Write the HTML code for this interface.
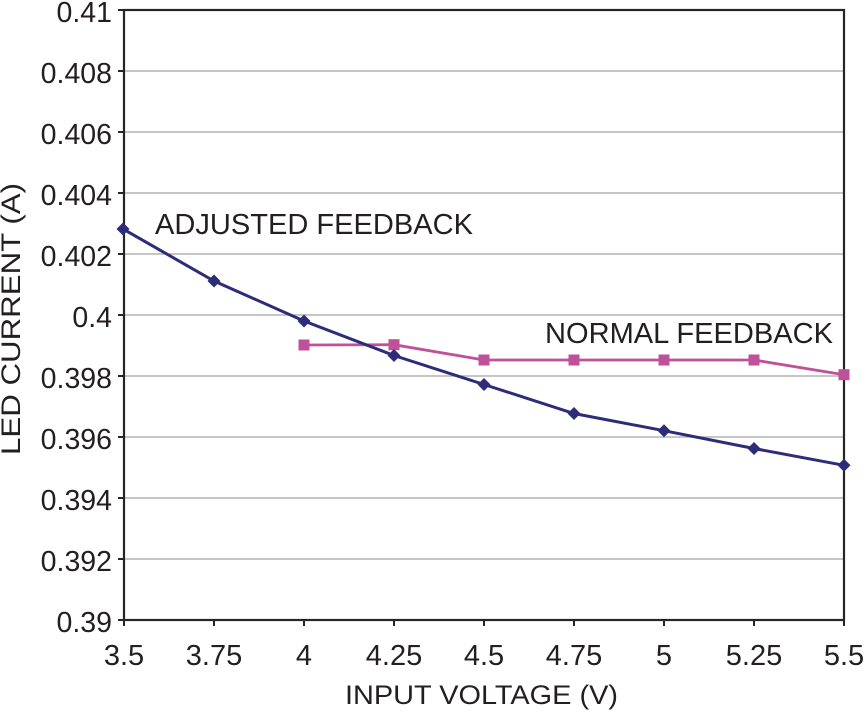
<!DOCTYPE html>
<html>
<head>
<meta charset="utf-8">
<style>
  html, body { margin: 0; padding: 0; background: #fff; }
  svg { display: block; }
  text { font-family: "Liberation Sans", Arial, sans-serif; fill: #231f20; }
</style>
</head>
<body>
<svg width="864" height="714" viewBox="0 0 864 714" xmlns="http://www.w3.org/2000/svg">
  <rect x="0" y="0" width="864" height="714" fill="#fff"/>
  <!-- gridlines -->
  <g stroke="#b4b4b4" stroke-width="1.6">
    <line x1="124" y1="71" x2="844" y2="71"/>
    <line x1="124" y1="132" x2="844" y2="132"/>
    <line x1="124" y1="193" x2="844" y2="193"/>
    <line x1="124" y1="254" x2="844" y2="254"/>
    <line x1="124" y1="315" x2="844" y2="315"/>
    <line x1="124" y1="376" x2="844" y2="376"/>
    <line x1="124" y1="437" x2="844" y2="437"/>
    <line x1="124" y1="498" x2="844" y2="498"/>
    <line x1="124" y1="559" x2="844" y2="559"/>
  </g>
  <!-- frame -->
  <rect x="124" y="10" width="720" height="610" fill="none" stroke="#262626" stroke-width="2.2"/>
  <!-- y ticks -->
  <g stroke="#262626" stroke-width="2">
    <line x1="118" y1="10" x2="124" y2="10"/>
    <line x1="118" y1="71" x2="124" y2="71"/>
    <line x1="118" y1="132" x2="124" y2="132"/>
    <line x1="118" y1="193" x2="124" y2="193"/>
    <line x1="118" y1="254" x2="124" y2="254"/>
    <line x1="118" y1="315" x2="124" y2="315"/>
    <line x1="118" y1="376" x2="124" y2="376"/>
    <line x1="118" y1="437" x2="124" y2="437"/>
    <line x1="118" y1="498" x2="124" y2="498"/>
    <line x1="118" y1="559" x2="124" y2="559"/>
    <line x1="118" y1="620" x2="124" y2="620"/>
    <!-- x ticks -->
    <line x1="124" y1="620" x2="124" y2="626"/>
    <line x1="214" y1="620" x2="214" y2="626"/>
    <line x1="304" y1="620" x2="304" y2="626"/>
    <line x1="394" y1="620" x2="394" y2="626"/>
    <line x1="484" y1="620" x2="484" y2="626"/>
    <line x1="574" y1="620" x2="574" y2="626"/>
    <line x1="664" y1="620" x2="664" y2="626"/>
    <line x1="754" y1="620" x2="754" y2="626"/>
    <line x1="844" y1="620" x2="844" y2="626"/>
  </g>
  <!-- y tick labels -->
  <g font-size="28.5" text-anchor="end">
    <text x="112" y="22">0.41</text>
    <text x="112" y="83">0.408</text>
    <text x="112" y="144">0.406</text>
    <text x="112" y="205">0.404</text>
    <text x="112" y="266">0.402</text>
    <text x="112" y="327">0.4</text>
    <text x="112" y="388">0.398</text>
    <text x="112" y="449">0.396</text>
    <text x="112" y="510">0.394</text>
    <text x="112" y="571">0.392</text>
    <text x="112" y="632">0.39</text>
  </g>
  <!-- x tick labels -->
  <g font-size="29" text-anchor="middle">
    <text x="124" y="665">3.5</text>
    <text x="214" y="665">3.75</text>
    <text x="304" y="665">4</text>
    <text x="394" y="665">4.25</text>
    <text x="484" y="665">4.5</text>
    <text x="574" y="665">4.75</text>
    <text x="664" y="665">5</text>
    <text x="754" y="665">5.25</text>
    <text x="844" y="665">5.5</text>
  </g>
  <!-- axis titles -->
  <text x="345" y="704" font-size="26.5" textLength="273" lengthAdjust="spacingAndGlyphs">INPUT VOLTAGE (V)</text>
  <text transform="translate(20,455) rotate(-90)" font-size="26.5" textLength="272" lengthAdjust="spacingAndGlyphs">LED CURRENT (A)</text>
  <!-- annotations -->
  <text x="155" y="234" font-size="29" textLength="318" lengthAdjust="spacingAndGlyphs">ADJUSTED FEEDBACK</text>
  <text x="545" y="343" font-size="29" textLength="288" lengthAdjust="spacingAndGlyphs">NORMAL FEEDBACK</text>
  <!-- normal feedback series -->
  <polyline fill="none" stroke="#c0509a" stroke-width="2.8"
    points="304,345 394,344.7 484,360 574,360 664,360 754,360 844,374.7"/>
  <g fill="#c0509a">
    <rect x="298.5" y="339.5" width="11" height="11"/>
    <rect x="388.5" y="339.2" width="11" height="11"/>
    <rect x="478.5" y="354.5" width="11" height="11"/>
    <rect x="568.5" y="354.5" width="11" height="11"/>
    <rect x="658.5" y="354.5" width="11" height="11"/>
    <rect x="748.5" y="354.5" width="11" height="11"/>
    <rect x="838.5" y="369.2" width="11" height="11"/>
  </g>
  <!-- adjusted feedback series -->
  <polyline fill="none" stroke="#2d2c78" stroke-width="3"
    points="123,229 214,281 304,321 394,355.5 484,384.5 574,413.5 664,430.7 754,448.5 844,465.3"/>
  <g fill="#2d2c78">
    <polygon points="123,222.5 129.5,229 123,235.5 116.5,229"/>
    <polygon points="214,274.5 220.5,281 214,287.5 207.5,281"/>
    <polygon points="304,314.5 310.5,321 304,327.5 297.5,321"/>
    <polygon points="394,349 400.5,355.5 394,362 387.5,355.5"/>
    <polygon points="484,378 490.5,384.5 484,391 477.5,384.5"/>
    <polygon points="574,407 580.5,413.5 574,420 567.5,413.5"/>
    <polygon points="664,424.2 670.5,430.7 664,437.2 657.5,430.7"/>
    <polygon points="754,442 760.5,448.5 754,455 747.5,448.5"/>
    <polygon points="844,458.8 850.5,465.3 844,471.8 837.5,465.3"/>
  </g>
</svg>
</body>
</html>
